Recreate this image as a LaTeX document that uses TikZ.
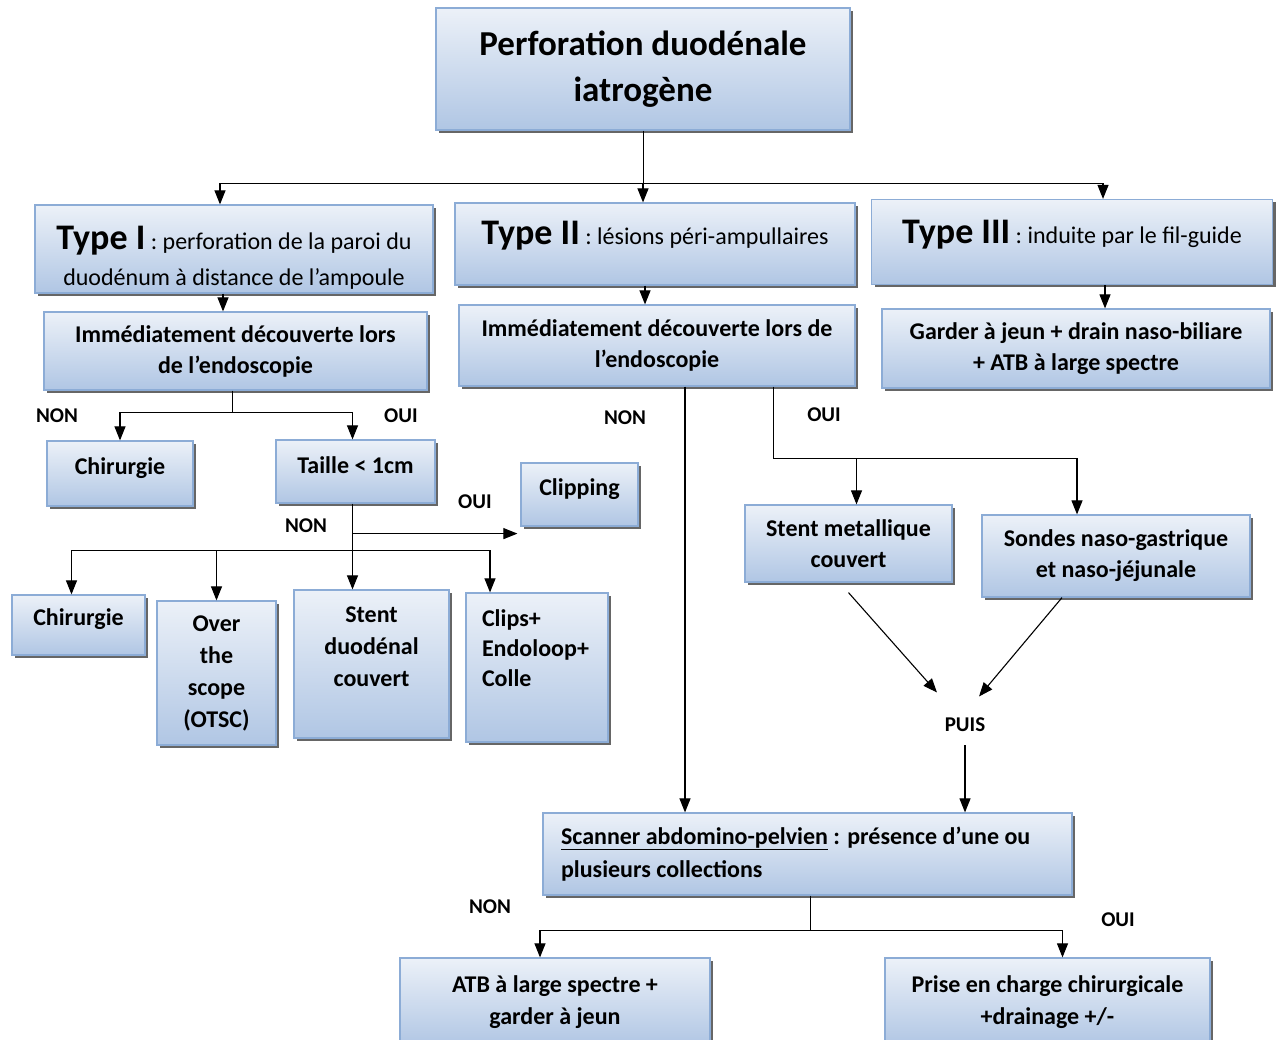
\documentclass[tikz,border=0pt]{standalone}
\usepackage{fontspec}
\setmainfont{Carlito}
\usetikzlibrary{arrows.meta,shadows}

\definecolor{boxtop}{RGB}{236,241,248}
\definecolor{boxbot}{RGB}{176,198,228}
\definecolor{boxline}{RGB}{140,172,214}

\tikzset{
  boite/.style={draw=boxline, line width=1.2pt, top color=boxtop, bottom color=boxbot,
    drop shadow={shadow xshift=3pt, shadow yshift=-3pt, fill=black!60, opacity=1},
    align=center, inner sep=0pt, font=\bfseries\fontsize{24}{31}\selectfont},
  typebox/.style={boite, font=\fontsize{24}{36}\selectfont},
  etiq/.style={font=\bfseries\fontsize{21}{24}\selectfont},
  fleche/.style={-{Triangle[length=14pt,width=11pt]}, line width=1.1pt},
  trait/.style={line width=1pt},
}
\newcommand{\gtype}[1]{{\fontsize{36}{36}\selectfont\bfseries #1}}
\newcommand{\bas}[1]{\rule[-#1]{0pt}{0pt}}

\begin{document}
\begin{tikzpicture}[x=1pt,y=-1pt]
  \useasboundingbox (0,0) rectangle (1278,1040);
  % titre
  \node[boite, minimum width=414pt, minimum height=122pt, font=\bfseries\fontsize{35}{46}\selectfont] (titre) at (643,69) {Perforation duodénale\\iatrogène};
  % les trois types
  \node[typebox, minimum width=398pt, minimum height=88pt] (t1) at (234,249) {\rule{0pt}{41pt}\gtype{Type I} : perforation de la paroi du\\duodénum à distance de l’ampoule};
  \node[typebox, minimum width=400pt, minimum height=82pt] (t2) at (655,244) {\gtype{Type II} : lésions péri-ampullaires\bas{22pt}};
  \node[typebox, minimum width=401pt, minimum height=85pt] (t3) at (1072,242) {\gtype{Type III} : induite par le fil-guide\bas{20pt}};
  \node[boite, minimum width=383pt, minimum height=78pt] (i1) at (235.5,351) {Immédiatement découverte lors\\de l’endoscopie};
  \node[boite, minimum width=396pt, minimum height=81pt] (i2) at (657,345.5) {Immédiatement découverte lors de\\l’endoscopie};
  \node[boite, minimum width=388pt, minimum height=79pt] (g3) at (1076,348.5) {Garder à jeun + drain naso-biliare\\+ ATB à large spectre};
  % type I
  \node[boite, minimum width=146pt, minimum height=65pt] (ch1) at (120,473.5) {Chirurgie\bas{15pt}};
  \node[boite, minimum width=159pt, minimum height=63pt] (taille) at (355.5,471.5) {Taille < 1cm\bas{12pt}};
  \node[boite, minimum width=117pt, minimum height=63pt] (clip) at (579.5,494.5) {Clipping\bas{15pt}};
  \node[boite, minimum width=133pt, minimum height=60pt] (ch2) at (78.5,625) {Chirurgie\bas{15pt}};
  \node[boite, minimum width=119pt, minimum height=144pt, font=\bfseries\fontsize{24}{32}\selectfont] (otsc) at (216.5,673) {Over\\the\\scope\\(OTSC)};
  \node[boite, minimum width=155pt, minimum height=148pt, font=\bfseries\fontsize{24}{32}\selectfont] (stent) at (371.5,664) {Stent\\duodénal\\couvert\bas{34pt}};
  \node[boite, minimum height=149pt, text width=110pt, inner xsep=16pt, align=flush left, font=\bfseries\fontsize{24}{30}\selectfont] (clips) at (537,667.5) {Clips+\\Endoloop+\\Colle\bas{38pt}};
  % type II
  \node[boite, minimum width=207pt, minimum height=77pt] (sm) at (848.5,543.5) {Stent metallique\\couvert};
  \node[boite, minimum width=268pt, minimum height=82pt] (sng) at (1116,556) {Sondes naso-gastrique\\et naso-jéjunale};
  \node[etiq] (puis) at (965,725) {PUIS};
  \node[boite, minimum height=82pt, text width=493pt, inner xsep=18pt, align=flush left, font=\bfseries\fontsize{24}{33}\selectfont] (scan) at (807.5,854) {\underline{Scanner abdomino-pelvien} : présence d’une ou\\plusieurs collections};
  \node[boite, minimum width=310pt, minimum height=88pt, font=\bfseries\fontsize{24}{32}\selectfont] (atb) at (555,1002) {ATB à large spectre +\\garder à jeun};
  \node[boite, minimum width=325pt, minimum height=88pt, font=\bfseries\fontsize{24}{32}\selectfont] (prise) at (1047.5,1002) {Prise en charge chirurgicale\\+drainage +/-};
  % etiquettes
  \node[etiq] (n1) at (57,416) {NON};
  \node[etiq] (o1) at (401,416) {OUI};
  \node[etiq] (o2) at (475,502) {OUI};
  \node[etiq] (n2) at (306,526) {NON};
  \node[etiq] (n3) at (625,418) {NON};
  \node[etiq] (o3) at (824,415) {OUI};
  \node[etiq] (n4) at (490,907) {NON};
  \node[etiq] (o4) at (1118,920) {OUI};
  % connexions
  \draw[trait] (titre.south) -- ++(0,53) coordinate (b0);
  \draw[fleche] (b0) -| ([xshift=-14pt]t1.north);
  \draw[fleche] (b0) -- (b0 |- t2.north);
  \draw[fleche] (b0) -| ([xshift=31pt]t3.north);
  \draw[fleche] ([xshift=-11pt]t1.south) -- ([xshift=-11pt]t1.south |- i1.north);
  \draw[fleche] ([xshift=-10pt]t2.south) -- ([xshift=-10pt]t2.south |- i2.north);
  \draw[fleche] ([xshift=33pt]t3.south) -- ([xshift=33pt]t3.south |- g3.north);
  \draw[trait] ([xshift=-3pt]i1.south) -- ++(0,22) coordinate (b1);
  \draw[fleche] (b1) -| (ch1.north);
  \draw[fleche] (b1) -| ([xshift=-3pt]taille.north);
  \draw[trait] ([xshift=-3pt]taille.south) -- ++(0,47) coordinate (b2);
  \draw[fleche] ([xshift=-3pt,yshift=-30pt]taille.south) -- ([xshift=-3pt,yshift=-30pt]taille.south -| clip.south west);
  \draw[fleche] (b2) -| ([xshift=-7pt]ch2.north);
  \draw[fleche] (b2) -| (otsc.north);
  \draw[fleche] (b2) -- (b2 |- stent.north);
  \draw[fleche] (b2) -| ([xshift=-47pt]clips.north);
  \draw[fleche] ([xshift=28pt]i2.south) -- ([xshift=28pt]i2.south |- scan.north);
  \draw[trait] ([xshift=116pt]i2.south) -- ++(0,72) coordinate (b3);
  \draw[fleche] (b3) -| ([xshift=8pt]sm.north);
  \draw[fleche] (b3) -| ([xshift=-39pt]sng.north);
  \draw[fleche] ([yshift=-10pt]sm.south) -- ([xshift=-28pt,yshift=22pt]puis.north);
  \draw[fleche] ([xshift=-54pt]sng.south) -- ([xshift=14pt,yshift=18pt]puis.north);
  \draw[fleche] ([yshift=-10pt]puis.south) -- (puis.south |- scan.north);
  \draw[trait] ([xshift=3pt]scan.south) -- ++(0,35) coordinate (b4);
  \draw[fleche] (b4) -| ([xshift=-15pt]atb.north);
  \draw[fleche] (b4) -| ([xshift=15pt]prise.north);
\end{tikzpicture}
\end{document}
